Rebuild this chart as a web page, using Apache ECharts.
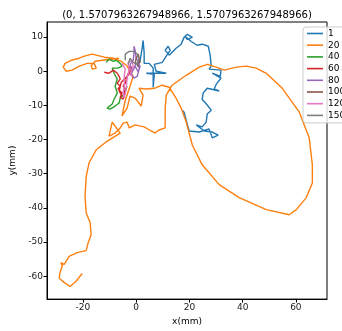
<!DOCTYPE html>
<html>
<head>
<meta charset="utf-8">
<script src="https://cdn.jsdelivr.net/npm/echarts@6.0.0/dist/echarts.min.js"></script>
<style>
  html, body { margin: 0; padding: 0; background: #fff; }
  #main { width: 342px; height: 331px; }
</style>
</head>
<body>
<div id="main"></div>
<script>
// 轨迹数据 (x, y) 单位 mm
var names = ['1', '20', '40', '60', '80', '100', '120', '150'];
var colors = ['#1f77b4', '#ff7f0e', '#2ca02c', '#d62728', '#9467bd', '#8c564b', '#e377c2', '#7f7f7f'];
var xTicks = [-20, 0, 20, 40, 60];
var yTicks = [-60, -50, -40, -30, -20, -10, 0, 10];

var path1 = [[0.4,1.5],[1.5,3.2],[2.3,7.0],[2.6,9.0],[3.0,5.5],[3.0,2.3],[4.9,2.3],[6.4,0.9],[6.4,-4.7],[6.8,-0.9],
  [3.8,-0.6],[11.3,-0.6],[7.5,0.0],[6.8,2.0],[9.8,2.6],[11.3,4.4],[12.8,6.1],[12.0,7.3],[10.9,6.1],[12.4,4.7],
  [15.0,6.7],[16.9,7.9],[18.0,9.9],[19.2,10.8],[21.1,9.9],[19.2,9.3],[18.4,10.2],[20.7,8.7],[22.9,7.6],[24.8,7.9],
  [27.1,7.3],[27.8,4.7],[28.2,1.5],[27.4,0.6],[31.9,0.3],[31.6,-1.5],[28.6,-0.6],[31.9,-2.0],[30.1,-3.8],[29.3,-5.2],
  [31.2,-5.8],[26.7,-5.0],[25.2,-6.4],[24.8,-8.2],[26.7,-9.9],[28.2,-11.4],[26.7,-12.5],[26.3,-14.9],[24.8,-16.3],
  [22.6,-15.7],[25.6,-17.5],[28.6,-17.8],[30.8,-18.7],[28.6,-19.5],[27.4,-16.9],[23.7,-17.8],[19.9,-17.5],[19.2,-15.5],
  [18.0,-12.0],[17.3,-11.4]];
var path20 = [[-20.3,-59.2],[-22.6,-61.5],[-24.8,-63.0],[-27.1,-61.8],[-28.9,-60.6],[-28.6,-58.9],[-27.8,-57.1],[-28.2,-56.0],
  [-27.1,-56.6],[-25.2,-54.2],[-22.2,-53.1],[-18.8,-52.5],[-18.0,-50.1],[-16.9,-47.8],[-17.3,-44.3],[-18.8,-41.4],
  [-19.2,-36.7],[-18.8,-30.9],[-17.7,-26.8],[-15.0,-23.0],[-11.3,-20.7],[-6.0,-18.1],[-9.0,-14.9],[-10.2,-19.0],
  [-7.9,-18.1],[-6.0,-16.6],[-4.9,-15.2],[-3.4,-14.9],[-2.6,-16.6],[-0.4,-15.7],[3.0,-16.3],[5.6,-17.5],[7.1,-18.1],
  [8.6,-17.2],[10.9,-16.6],[10.9,-10.8],[11.3,-7.0],[13.5,-4.1],[18.8,-1.2],[23.7,1.2],[26.7,2.0],[30.1,1.2],
  [33.1,0.3],[37.6,1.2],[41.4,1.5],[45.1,0.9],[48.9,-0.6],[54.9,-5.0],[61.3,-12.0],[65.0,-19.5],[66.2,-27.4],
  [66.2,-32.7],[63.9,-37.0],[60.2,-40.5],[57.5,-42.0],[48.9,-40.5],[38.7,-37.0],[31.2,-33.2],[24.8,-27.4],
  [21.1,-21.6],[18.8,-14.9],[16.9,-10.8],[15.0,-7.9],[12.4,-4.7],[9.8,-4.1],[6.8,-5.0],[3.8,-5.2],[1.1,-5.0],
  [2.6,-7.0],[1.9,-10.2],[-0.4,-7.9],[-2.3,-7.3],[-3.4,-10.8],[-5.3,-13.1],[-4.1,-8.5],[-2.3,-4.4],[-1.1,-1.5],
  [-3.4,1.5],[-5.6,2.9],[-8.6,3.8],[-12.0,4.1],[-16.5,5.0],[-19.5,4.4],[-21.4,3.8],[-24.4,3.2],[-26.7,2.3],
  [-27.4,1.2],[-26.3,0.0],[-24.1,0.3],[-21.4,1.5],[-18.4,2.3],[-15.8,2.3],[-15.0,0.9],[-16.5,0.6],[-16.9,1.7],
  [-15.4,2.9],[-12.8,3.2],[-9.4,3.5],[-6.4,3.8]];
var path40 = [[-11.3,2.6],[-10.2,3.5],[-8.6,2.9],[-7.5,3.2],[-6.0,2.3],[-5.3,1.5],[-6.8,0.9],[-9.0,0.9],[-8.3,-0.6],
  [-7.1,-2.3],[-7.9,-4.4],[-7.1,-6.4],[-8.3,-8.2],[-9.0,-9.6],[-10.9,-10.8],[-9.8,-11.1],[-7.9,-10.2],[-6.4,-9.3],
  [-6.0,-7.9],[-4.5,-6.7],[-4.1,-5.8],[-3.4,-4.4]];
var path60 = [[-12.0,-0.3],[-10.2,-0.6],[-8.6,0.3],[-7.9,0.6],[-7.1,-0.6],[-6.4,-1.5],[-6.0,-2.3],[-7.1,-3.5],[-6.0,-4.4],
  [-6.8,-5.2],[-5.3,-6.4],[-6.0,-7.6],[-4.9,-8.2],[-4.5,-6.7],[-4.1,-5.2],[-4.9,-4.4],[-4.1,-3.5],[-3.4,-1.5],
  [-2.6,0.0],[-2.3,1.5],[-1.5,0.9],[-2.6,-0.9],[-5.6,-3.2],[-6.4,-5.8],[-5.3,-7.3]];
var path80 = [[-1.5,-0.3],[-2.3,2.0],[-1.1,3.2],[-0.8,5.5],[-0.8,7.3],[-0.4,6.1],[0.0,3.8],[1.1,2.6],[1.1,0.6],[0.4,-1.5],
  [-0.8,-2.0],[-1.9,-0.9],[-0.4,1.5],[0.8,-0.3],[1.5,1.5],[0.0,2.3],[-1.1,0.3]];
var path100 = [[-0.4,2.0],[0.0,3.8],[0.8,5.0],[1.5,5.2],[1.1,3.8],[1.5,2.6],[0.4,2.6],[0.8,1.2]];
var path120 = [[-5.3,2.3],[-4.1,0.6],[-4.5,-1.5],[-4.5,-4.4],[-4.9,-6.4],[-4.5,-7.9],[-3.8,-5.5],[-3.4,-2.0],[-2.6,0.3],
  [-3.0,2.6],[-1.5,3.2],[-1.1,1.2],[-2.3,-0.9],[-1.5,-1.5]];
var path150 = [[-4.1,3.2],[-4.1,5.0],[-2.6,5.8],[-0.8,5.8],[0.4,5.0],[1.1,3.5],[0.4,2.0],[-1.1,2.6],[-2.3,3.8],[-3.0,2.0]];

var paths = [path1, path20, path40, path60, path80, path100, path120, path150];

var chart = echarts.init(document.getElementById('main'));
var font = 'DejaVu Sans';

var series = [];
for (var i = 0; i < paths.length; i++) {
  series.push({
    name: names[i],
    type: 'line',
    data: paths[i],
    symbol: 'none',
    showSymbol: false,
    silent: true,
    lineStyle: { color: colors[i], width: 1.4 },
    itemStyle: { color: colors[i] }
  });
}

option = {
  animation: false,
  textStyle: { fontFamily: font },
  title: {
    text: '(0, 1.5707963267948966, 1.5707963267948966)',
    left: 182,
    top: 5,
    textAlign: 'center',
    textStyle: { fontFamily: font, fontSize: 10, fontWeight: 'normal', color: '#000' }
  },
  legend: {
    orient: 'vertical',
    left: 303,
    top: 27,
    padding: [2, 4, 3, 4],
    icon: 'path://M0,0L16,0L16,1.6L0,1.6Z',
    itemWidth: 16,
    itemHeight: 10,
    itemGap: 2.7,
    backgroundColor: 'rgba(255,255,255,0.8)',
    borderColor: '#ccc',
    borderWidth: 1,
    borderRadius: 3,
    textStyle: { fontFamily: font, fontSize: 9, color: '#000' },
    data: names
  },
  grid: { left: 47, right: 15, top: 22, bottom: 31, show: true, borderColor: '#000', borderWidth: 1 },
  xAxis: {
    type: 'value',
    min: -33.5,
    max: 71.7,
    name: 'x(mm)',
    nameLocation: 'middle',
    nameGap: 16,
    nameTextStyle: { fontFamily: font, fontSize: 9, color: '#000' },
    axisLine: { show: true, onZero: false, lineStyle: { color: '#000', width: 1 } },
    axisTick: { show: true, length: 3.5, customValues: xTicks, lineStyle: { color: '#000' } },
    axisLabel: { customValues: xTicks, fontSize: 9, color: '#222', margin: 4, fontFamily: font },
    splitLine: { show: false }
  },
  yAxis: {
    type: 'value',
    min: -66.7,
    max: 14.4,
    name: 'y(mm)',
    nameLocation: 'middle',
    nameGap: 30,
    nameTextStyle: { fontFamily: font, fontSize: 9, color: '#000' },
    axisLine: { show: true, onZero: false, lineStyle: { color: '#000', width: 1 } },
    axisTick: { show: true, length: 3.5, customValues: yTicks, lineStyle: { color: '#000' } },
    axisLabel: { customValues: yTicks, fontSize: 9, color: '#222', margin: 4, fontFamily: font },
    splitLine: { show: false }
  },
  series: series
};

chart.setOption(option);
</script>
</body>
</html>
